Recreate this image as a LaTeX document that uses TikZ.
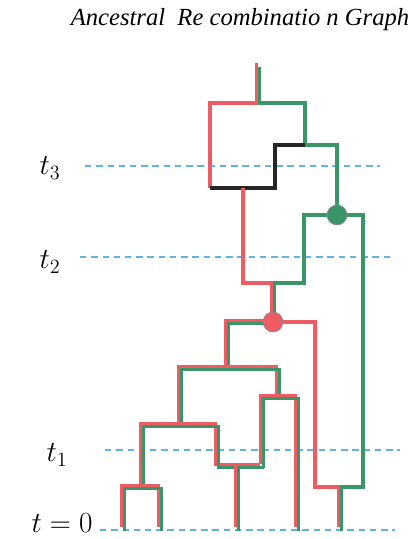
\documentclass[tikz,border=0pt]{standalone}
\usepackage{fontspec}
\setmainfont{Liberation Serif}
\definecolor{argred}{RGB}{236,92,98}
\definecolor{arggreen}{RGB}{58,150,104}
\definecolor{tline}{RGB}{96,180,222}

\begin{document}
\begin{tikzpicture}[x=0.025cm,y=-0.025cm,line join=miter,
    redl/.style={draw=argred,line width=2.6pt},
    greenl/.style={draw=arggreen,line width=2.6pt},
    blackl/.style={draw=black!85,line width=2.6pt},
    bothl/.style={preaction={redl,line width=2.3pt,transform canvas={shift={(-1.1pt,1.1pt)}}},
                  postaction={greenl,line width=2.3pt,transform canvas={shift={(1.1pt,-1.1pt)}}}},
    timeln/.style={draw=tline,line width=1.2pt,dash pattern=on 4.5pt off 3.5pt},
    tlabel/.style={font=\fontsize{22}{26}\selectfont},
    recomb/.style={circle,inner sep=0pt,minimum size=14pt,draw=black!45,line width=0.4pt}]
  \useasboundingbox (0,0) rectangle (415,539);
  \node[font=\fontsize{17.5}{20}\selectfont\itshape] (title) at (240,20)
      {Ancestral\ \ Re combinatio n Graph};

  % time axis
  \node[tlabel] (t3) at (50,168) {$t_3$};
  \node[tlabel] (t2) at (50,262) {$t_2$};
  \node[tlabel] (t1) at (57,455) {$t_1$};
  \node[tlabel] (t0) at (62,523) {$t=0$};
  \foreach \n/\y/\xa/\xb in {3/166/85/380,2/257/80/390,1/450/105/400,0/530/100/395}
    \draw[timeln] (\xa,\y) coordinate (s\n) -- (\xb,\y) coordinate (e\n);

  % branch points
  \coordinate (top) at (258,65);
  \coordinate (r1) at (258,103);
  \coordinate (g1) at (305,145);
  \coordinate (k1) at (275,188);
  \coordinate (m1) at (210,188);
  \coordinate (m2) at (243,188);
  \coordinate (g2) at (304,283);
  \coordinate (j1) at (273,283);
  \coordinate (g3) at (363,487);
  \coordinate (r3) at (315,487);
  \coordinate (n1) at (340,487);
  \coordinate (c1) at (227,368);
  \coordinate (c2) at (180,425);
  \coordinate (c3) at (278,397);
  \coordinate (c4) at (142,487);
  \coordinate (c5) at (217,466);
  \coordinate (c6) at (262,466);
  \coordinate (c7) at (237,466);
  % samples
  \coordinate (l1) at (123,529);
  \coordinate (l2) at (160,529);
  \coordinate (l3) at (237,529);
  \coordinate (l4) at (297,529);
  \coordinate (l5) at (340,529);
  \node[recomb,fill=arggreen] (rg) at (337,215) {};
  \node[recomb,fill=argred] (rr) at (273,322) {};

  % upper part
  \path[bothl] (top) -- (r1);
  \draw[redl] (r1) -| (m1);
  \draw[greenl] (r1) -| (g1) -| (rg.center);
  \draw[blackl] (g1) -| (k1) -- (m1);
  \draw[redl] (m2) |- (j1);
  \draw[greenl] (rg.center) -| (g2) -- (j1);
  \path[bothl] (j1) -- (rr.center);
  % right part
  \draw[redl] (rr.center) -| (r3) -- (n1);
  \draw[greenl] (rg.center) -| (g3) -- (n1);
  \path[bothl] (n1) -- (l5);
  % left part
  \path[bothl] (rr.center) -| (c1);
  \path[bothl] (c1) -| (c2);
  \path[bothl] (c1) -| (c3);
  \path[bothl] (c2) -| (c4);
  \path[bothl] (c2) -| (c5) -- (c6);
  \path[bothl] (c4) -| (l1);
  \path[bothl] (c4) -| (l2);
  \path[bothl] (c3) -| (c6);
  \path[bothl] (c7) -- (l3);
  \path[bothl] (c3) -| (l4);

  \node[recomb,fill=arggreen] at (rg) {};
  \node[recomb,fill=argred] at (rr) {};
\end{tikzpicture}
\end{document}
